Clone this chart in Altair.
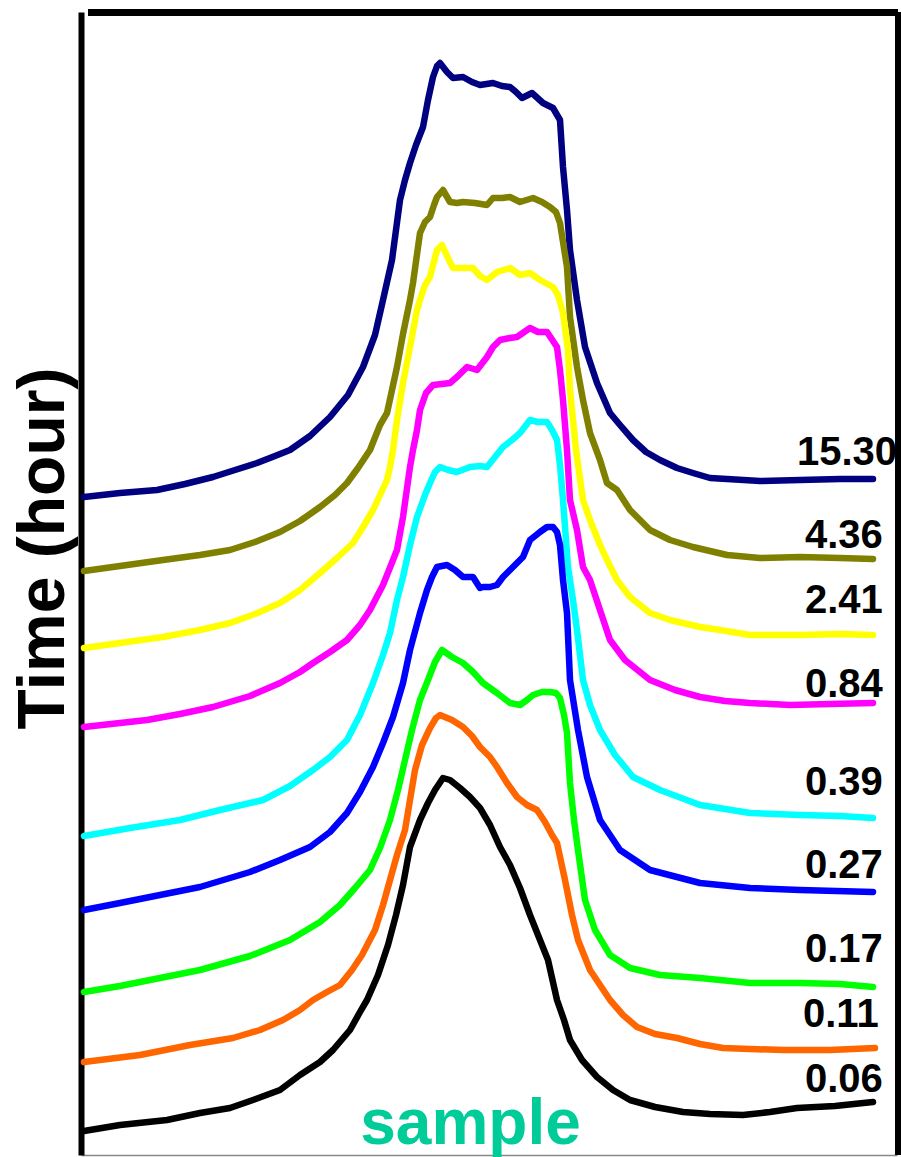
import altair as alt
import pandas as pd

# Series labels (time in hours) and colours
series_names = ["15.30", "4.36", "2.41", "0.84", "0.39", "0.27", "0.17", "0.11", "0.06"]
series_colors = ["#000080", "#808000", "#FFFF00", "#FF00FF", "#00FFFF", "#0000FF", "#00FF00", "#FF6600", "#000000"]

# Curves: (position, height) in the picture's frame units
# position grows to the right, height measured downward from the top of the frame (converted below)
c_1530 = [(84,497),(120,493),(157,490),(185,484),(213,477),(235,470),(257,463),(275,456),(290,450),(310,436),(330,417),(348,395),(363,367),(375,335),(383,300),(392,260),(400,200),(405,180),(410,163),(416,145),(423,127),(428,100),(433,77),(437,66),(440,63),(447,72),(453,78),(463,77),(472,82),(480,85),(493,83),(502,86),(510,87),(516,92),(522,98),(532,93),(543,103),(553,108),(560,120),(563,167),(567,210),(570,250),(577,300),(585,347),(597,383),(610,413),(620,425),(633,440),(646,452),(660,460),(677,468),(693,473),(710,478),(727,479),(760,481),(800,480),(840,479),(873,479)]
c_436 = [(84,571),(120,566),(163,560),(200,555),(230,550),(255,542),(280,532),(300,521),(320,507),(335,495),(347,483),(358,468),(370,450),(380,425),(387,413),(392,390),(397,367),(403,334),(410,300),(413,283),(420,233),(425,222),(430,217),(434,205),(437,197),(443,190),(450,202),(457,203),(463,202),(475,203),(487,205),(493,198),(502,198),(510,197),(520,202),(533,198),(542,202),(550,207),(556,212),(560,223),(567,267),(570,317),(577,367),(583,400),(590,433),(600,460),(607,483),(617,490),(630,510),(650,530),(670,540),(693,547),(710,551),(727,555),(760,558),(800,557),(840,558),(873,559)]
c_241 = [(84,648),(120,643),(163,637),(200,630),(230,623),(255,614),(280,603),(300,590),(320,573),(337,558),(353,543),(363,527),(373,510),(380,495),(387,480),(390,467),(393,450),(397,420),(403,383),(410,347),(417,310),(420,300),(425,285),(430,277),(437,250),(442,245),(447,256),(453,268),(463,268),(473,268),(480,276),(487,280),(497,272),(510,268),(520,275),(530,273),(540,280),(553,287),(558,295),(563,313),(568,350),(570,390),(576,450),(583,500),(590,520),(600,545),(607,560),(617,580),(630,597),(650,613),(670,620),(700,627),(720,630),(750,635),(800,635),(840,634),(873,635)]
c_084 = [(84,727),(120,723),(147,720),(180,714),(213,707),(250,696),(280,683),(300,672),(313,663),(330,652),(347,640),(360,625),(370,610),(383,585),(393,560),(397,550),(403,517),(410,467),(413,450),(417,430),(420,410),(426,393),(433,385),(442,384),(450,383),(458,376),(467,367),(477,370),(487,357),(493,347),(500,340),(510,338),(517,337),(530,328),(538,332),(547,332),(557,347),(560,370),(563,400),(567,450),(570,500),(577,530),(583,567),(590,580),(600,610),(610,640),(625,660),(650,680),(675,690),(700,697),(725,701),(750,703),(790,705),(830,704),(873,703)]
c_039 = [(84,836),(130,828),(180,820),(220,810),(263,800),(290,786),(313,770),(330,757),(347,740),(360,715),(373,683),(383,655),(390,633),(397,600),(403,577),(410,545),(417,517),(425,495),(430,483),(435,472),(440,467),(448,470),(457,472),(470,467),(480,466),(487,467),(495,457),(503,447),(512,440),(520,433),(530,420),(538,422),(547,422),(552,430),(557,440),(560,465),(563,500),(568,567),(573,600),(577,630),(583,680),(590,705),(600,730),(615,755),(633,777),(660,790),(700,805),(750,813),(800,815),(840,816),(873,818)]
c_027 = [(84,910),(120,903),(150,897),(200,887),(250,872),(280,860),(310,847),(330,832),(347,813),(360,792),(373,767),(383,743),(393,717),(403,683),(410,650),(420,613),(427,590),(432,577),(437,567),(447,565),(455,570),(463,577),(473,577),(480,588),(483,587),(490,587),(497,585),(503,577),(510,570),(517,563),(523,557),(530,540),(540,532),(547,527),(553,527),(557,532),(560,545),(563,580),(567,613),(570,680),(578,730),(587,777),(600,820),(620,850),(650,870),(700,883),(750,888),(800,890),(873,892)]
c_017 = [(84,992),(120,986),(150,980),(200,970),(250,956),(290,940),(320,922),(340,905),(355,888),(370,870),(380,848),(390,820),(398,790),(405,760),(412,730),(420,700),(428,680),(435,662),(442,650),(452,657),(463,663),(473,672),(483,683),(497,693),(510,703),(520,705),(527,700),(533,695),(542,692),(550,692),(556,693),(560,698),(564,715),(567,733),(570,783),(574,820),(578,850),(585,900),(595,930),(610,955),(630,968),(660,975),(700,978),(750,983),(800,983),(840,984),(873,987)]
c_011 = [(84,1062),(140,1055),(190,1045),(233,1038),(260,1030),(283,1020),(300,1010),(313,1000),(327,992),(340,985),(352,970),(362,955),(375,930),(383,905),(390,880),(397,855),(405,830),(415,770),(422,745),(430,728),(436,718),(440,715),(452,720),(463,727),(472,736),(480,747),(490,757),(497,767),(507,783),(517,797),(527,805),(537,810),(545,822),(552,835),(557,843),(565,880),(572,915),(578,940),(590,970),(610,1000),(623,1015),(637,1027),(655,1034),(677,1038),(700,1044),(723,1048),(750,1049),(783,1050),(830,1050),(875,1048)]
c_006 = [(84,1131),(120,1125),(167,1120),(200,1113),(230,1108),(253,1100),(280,1090),(300,1075),(320,1062),(333,1050),(350,1030),(360,1012),(367,1000),(378,975),(388,945),(396,915),(403,885),(410,847),(420,820),(428,803),(435,790),(443,778),(450,780),(460,788),(470,797),(480,808),(490,825),(500,847),(510,865),(520,888),(530,915),(540,940),(548,960),(557,1000),(564,1020),(570,1040),(582,1060),(597,1077),(613,1090),(630,1100),(655,1107),(683,1112),(710,1114),(743,1115),(770,1112),(797,1108),(835,1106),(873,1102)]
curves = [c_1530, c_436, c_241, c_084, c_039, c_027, c_017, c_011, c_006]

# Label anchor points (left edge, baseline)
label_pos_x = [797, 805, 805, 805, 805, 805, 805, 803, 805]
label_pos_y = [465, 548, 613, 697, 795, 878, 962, 1027, 1092]

FRAME_BOTTOM = 1155
rows = []
for name, pts in zip(series_names, curves):
    for i, (px, py) in enumerate(pts):
        rows.append({"series": name, "pos": px, "signal": FRAME_BOTTOM - py, "order": i})
df = pd.DataFrame(rows)

labels = pd.DataFrame({
    "series": series_names,
    "pos": label_pos_x,
    "signal": [FRAME_BOTTOM - v for v in label_pos_y],
})

xscale = alt.Scale(domain=[81, 897], nice=False, zero=False)
yscale = alt.Scale(domain=[0, 1143], nice=False, zero=False)

lines = alt.Chart(df).mark_line(strokeWidth=6.5, strokeCap="round", strokeJoin="round").encode(
    x=alt.X("pos:Q", scale=xscale,
            axis=alt.Axis(title="sample", labels=False, ticks=False, grid=False,
                          domainColor="#888888", domainWidth=1.5,
                          titleFont="Liberation Sans", titleFontSize=64, titleFontWeight="bold",
                          titleColor="#00CC99", titleX=389, titleY=-12,
                          titleAlign="center", titleBaseline="alphabetic")),
    y=alt.Y("signal:Q", scale=yscale,
            axis=alt.Axis(title="Time (hour)", labels=False, ticks=False, grid=False,
                          domainColor="black", domainWidth=6,
                          titleFont="Liberation Sans", titleFontSize=66, titleFontWeight="bold",
                          titleColor="black", titleAngle=270, titleX=-38, titleY=536,
                          titleAlign="center", titleBaseline="middle")),
    color=alt.Color("series:N", scale=alt.Scale(domain=series_names, range=series_colors), legend=None),
    detail="series:N",
    order="order:Q",
)

texts = alt.Chart(labels).mark_text(align="left", baseline="alphabetic", font="Liberation Sans",
                                    fontSize=40, fontWeight="bold", color="black").encode(
    x=alt.X("pos:Q", scale=xscale),
    y=alt.Y("signal:Q", scale=yscale),
    text="series:N",
)

top_rule = alt.Chart(labels).mark_rule(color="black", strokeWidth=7).encode(
    x=alt.value(7), x2=alt.value(817), y=alt.value(0.5)
)
right_rule = alt.Chart(labels).mark_rule(color="black", strokeWidth=5).encode(
    x=alt.value(817), y=alt.value(0), y2=alt.value(1143)
)

chart = alt.layer(lines, texts, top_rule, right_rule).properties(
    width=816, height=1143,
    autosize="none",
    padding={"left": 81, "top": 12, "right": 4, "bottom": 2},
).configure_view(stroke=None)

chart.save("out.html", embed_options={"renderer": "svg", "actions": False})
